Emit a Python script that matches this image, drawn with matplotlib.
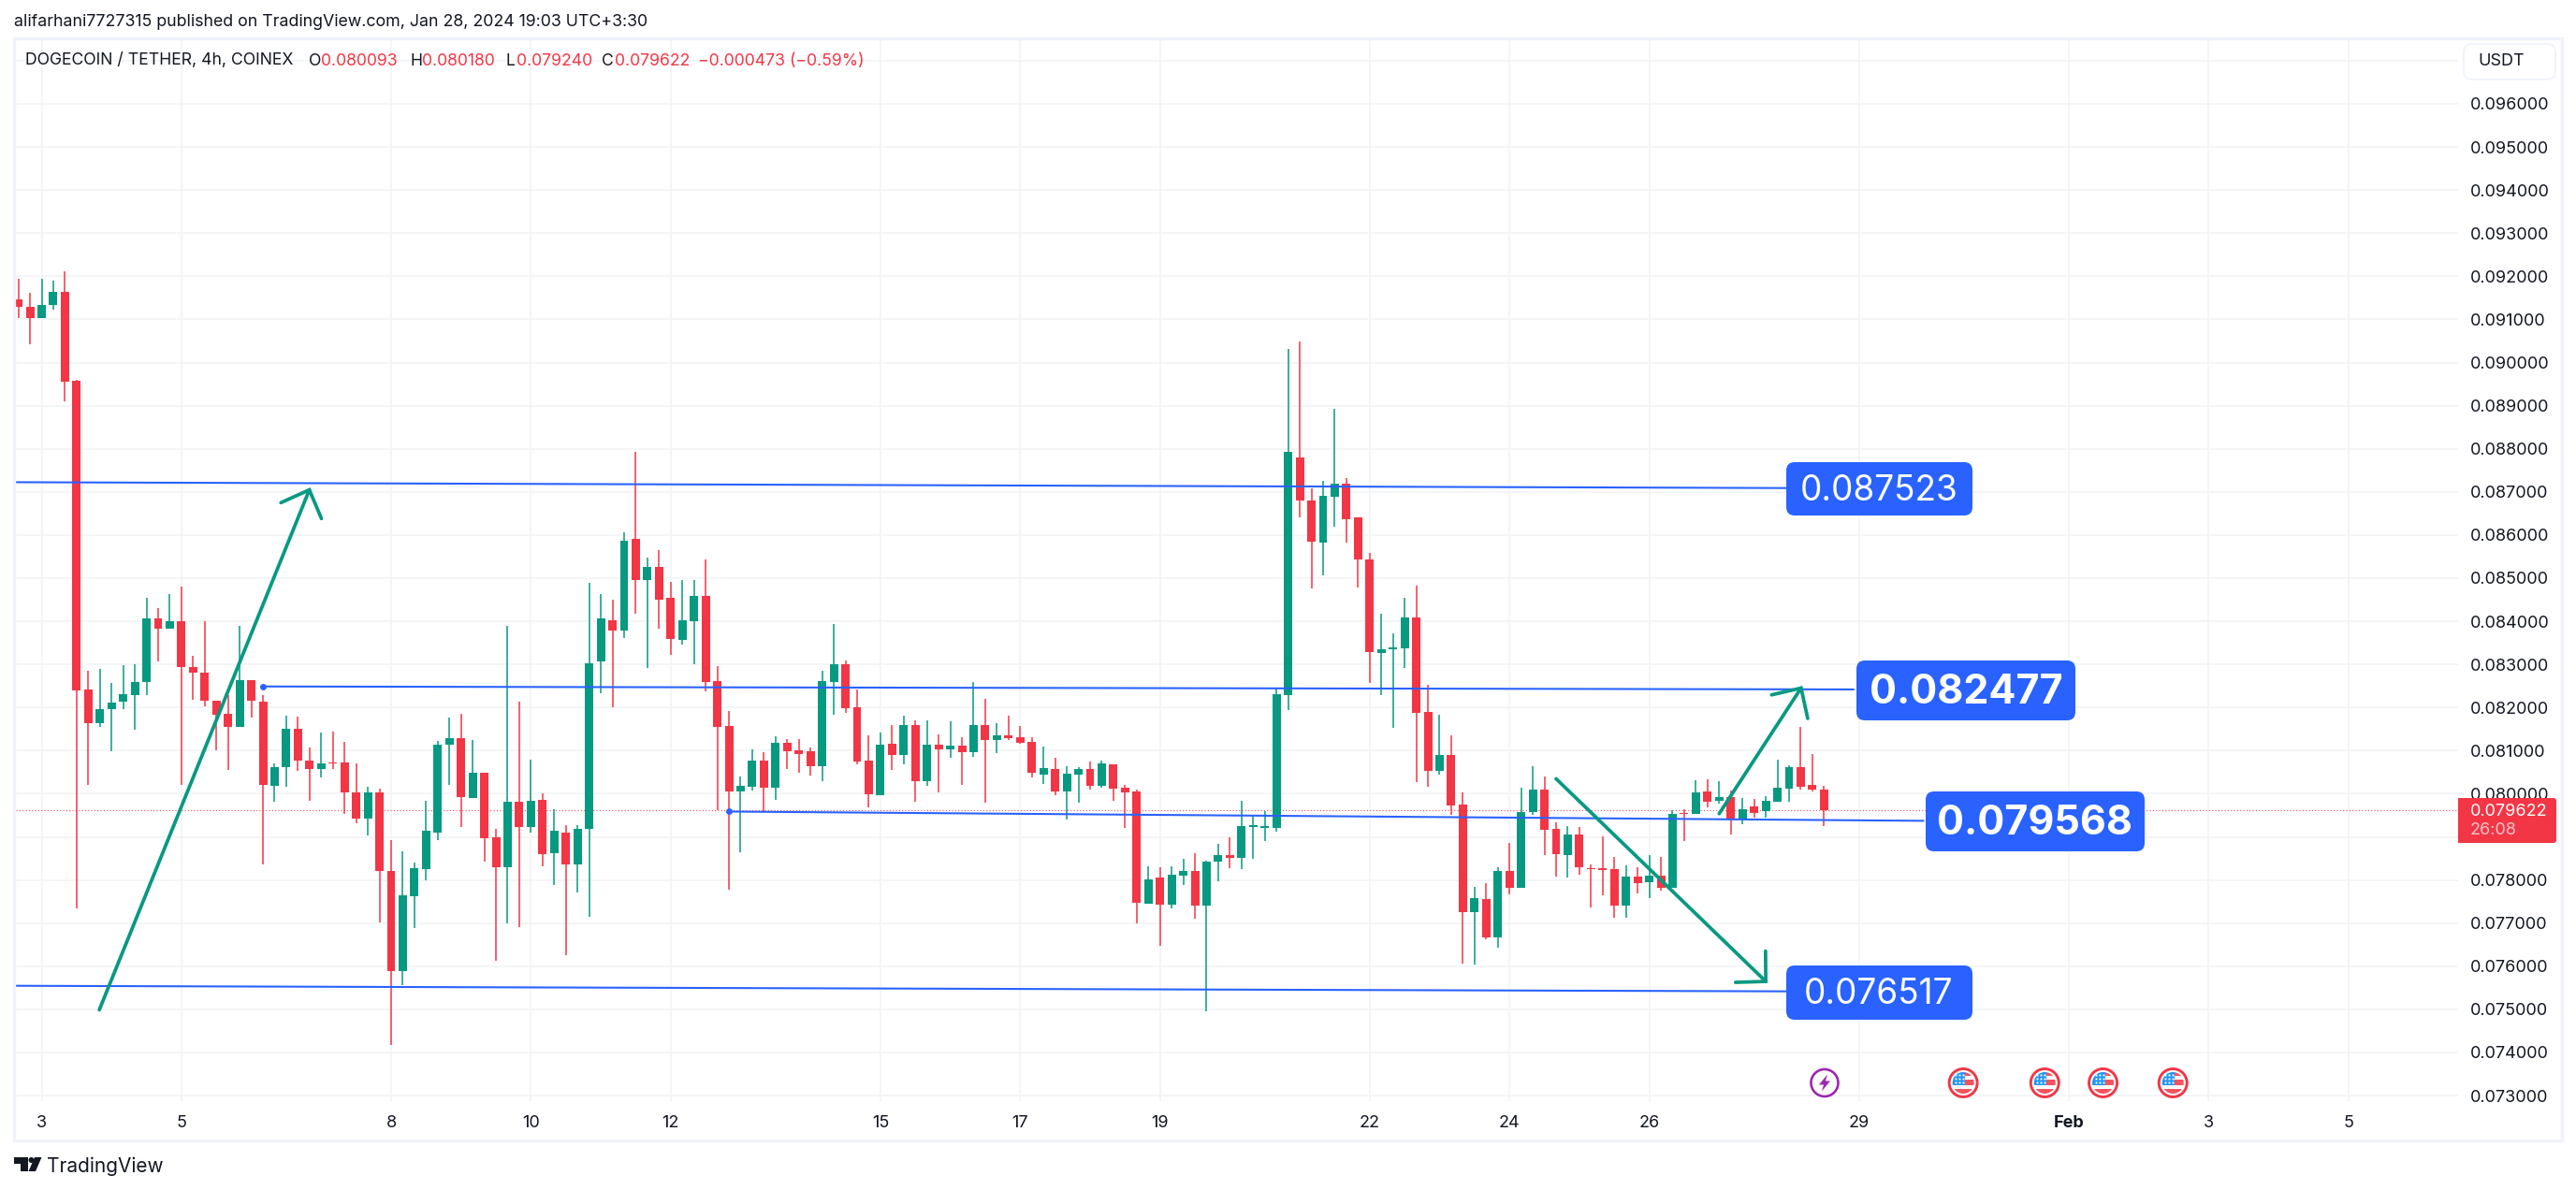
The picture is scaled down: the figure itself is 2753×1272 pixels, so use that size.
import numpy as np
import matplotlib
matplotlib.use('Agg')
import matplotlib.pyplot as plt
from matplotlib.patches import FancyBboxPatch, Rectangle, Circle, Polygon

plt.rcParams['font.family'] = ['Inter', 'DejaVu Sans']

# prices are kept in millionths of a USDT
opens = [91464,91286,91024,91333,91631,89583,82417,81631,81952,82131,
         82298,82583,84071,83821,84000,82941,82810,82155,81857,81560,
         82643,82143,80179,80607,81512,80774,80571,80726,80726,80036,
         79417,80036,78214,75881,77619,78262,79107,81143,81286,79905,
         80488,78988,78286,79821,79238,79857,78631,79095,78357,79179,
         83060,84024,83774,85917,84952,85268,84551,83573,84007,84594,
         82616,81573,80051,80160,80768,80138,81181,81008,80986,80638,
         82594,83007,82007,80768,79964,81160,80899,81594,80290,81138,
         81029,81116,80964,81594,81247,81355,81312,81203,80442,80573,
         80051,80442,80573,80182,80681,80138,80051,77443,78051,77421,
         78095,78203,77399,78434,78571,78518,79233,79212,79212,82293,
         87803,86804,85826,86888,87193,86404,85437,83271,83345,83365,
         84091,81893,80537,80894,79748,77246,77561,76678,78213,77824,
         79570,80095,79181,78571,79054,78266,78255,78255,77414,78076,
         77940,78098,77824,79559,79528,80053,79843,79927,79422,79706,
         79591,79822,80116,80621,80200,80093]
closes = [91286,91024,91333,91631,89548,82405,81631,81964,82119,82310,
          82595,84071,83821,84000,82929,82798,82155,81833,81548,82643,
          82155,80202,80619,81512,80762,80571,80702,80702,80024,79417,
          80036,78202,75881,77643,78274,79143,81143,81286,79917,80488,
          78976,78286,79821,79238,79833,78607,79143,78357,79191,83024,
          84071,83774,85869,84952,85262,84507,83594,84029,84594,82594,
          81551,80051,80182,80768,80138,81181,80986,80921,80638,82616,
          83007,81986,80747,79986,81138,80899,81594,80290,81138,81029,
          81116,80964,81594,81247,81355,81290,81181,80486,80595,80051,
          80464,80573,80182,80703,80116,80029,77464,78008,77421,78116,
          78203,77399,78421,78581,78507,79254,79254,79233,82314,87929,
          86793,85836,86909,87193,86373,85426,83292,83355,83397,84091,
          81883,80537,80894,79738,77246,77582,76668,78213,77824,79580,
          80095,79170,78592,79054,78287,78245,78234,77414,78076,77919,
          78098,77824,79528,79528,80032,79822,79927,79422,79643,79559,
          79832,80137,80621,80158,80095,79622]
highs = [91941,91619,91941,91905,92119,89607,82845,82893,82571,82988,
         83012,84548,84310,84631,84798,83202,84000,82155,82298,83893,
         82643,82298,80702,81810,81786,81072,81417,81441,81202,80702,
         80167,80119,78929,78667,78405,79833,81226,81774,81857,81250,
         80488,79191,83893,82143,80798,80012,79643,79274,79274,84893,
         84631,84500,86071,87929,85476,85660,84920,84964,84964,85442,
         82964,81921,80399,81029,80964,81334,81268,81268,81073,82855,
         83942,83094,82421,81355,81421,81594,81812,81703,81703,81377,
         81681,81312,82594,82203,81638,81812,81573,81312,81094,80834,
         80638,80616,80747,80768,80681,80203,80094,78312,78290,78312,
         78486,78616,78442,78833,78991,79833,79486,79591,82472,90316,
         90484,87077,87256,88928,87319,86404,85584,84175,83723,84543,
         84827,82524,81830,81357,80032,77845,77929,78297,78865,80137,
         80642,80390,79338,79254,79223,78360,79012,78539,78329,78297,
         78571,78539,79622,79643,80316,80337,80295,80085,79906,79874,
         79948,80789,80663,81546,80926,80180]
lows = [91024,90417,91024,91226,89095,77333,80202,81548,80980,81952,
        81476,82298,83059,83821,80214,82190,82024,81012,80548,81560,
        81762,78369,79809,80155,80524,79833,80369,80583,79524,79310,
        79024,77024,74167,75571,76893,78000,78917,80214,79238,79893,
        78417,76119,77000,76917,79107,78310,77893,76250,77703,77155,
        82322,82000,83607,84167,82917,83834,83225,83464,83007,82377,
        79609,77769,78638,80073,79587,79855,80573,80486,80421,80290,
        81834,81877,80681,79682,79964,80551,80681,79812,80182,80029,
        80834,80203,80855,79790,80942,81247,81160,80377,80225,79964,
        79399,79790,80095,80138,79834,79203,76986,77443,76464,77334,
        77877,77095,74954,77961,78276,78245,78487,78907,79118,81946,
        86415,84764,85069,86194,85816,84785,82577,82293,81536,82924,
        80263,80169,80452,79517,76068,76047,76615,76436,77656,77824,
        79517,78571,78087,78066,78118,77372,77635,77130,77130,77698,
        77572,77761,77824,78897,79528,79675,79780,79065,79296,79443,
        79443,79822,79811,80095,80043,79240]

# time axis: candle index of each date label
date_idx = [2,14,32,44,56,74,86,98,116,128,140,158,176,188,200]
date_labels = ['3','5','8','10','12','15','17','19','22','24','26','29','Feb','3','5']
price_ticks = [73000+1000*n for n in range(25)]

# drawn levels: start index, start price, end index, end price
level_lines = [(-1,87226,153.3,87088),
               (21,82488,157.6,82419),
               (61,79587,163.6,79372),
               (-1,75547,153.3,75416)]
level_dots = [(21,82488),(61,79587)]
# drawn arrows: shaft start, tip, two head ends
arrows = [[(6.95,74988),(24.98,87048),(22.54,86750),(26.02,86381)],
          [(132.0,80348),(150.0,75648),(147.4,75626),(149.98,76352)],
          [(146.0,79538),(153.03,82451),(150.5,82293),(153.6,81746)]]
last_price = 79622
event_idx = [155.05,166.95,173.95,178.95,184.95]
event_price = 73295

RED = '#F23645'
GREEN = '#089981'
BLUE = '#2962FF'
GRID = '#F2F3F6'
FRAME = '#F0F3FA'
TXT = '#131722'
W, H = 2753, 1272

fig = plt.figure(figsize=(W/100, H/100), dpi=100, facecolor='white')

# px -> data mapping of the pane
STEP = 12.45
X0 = 19.6
def price_at(y):
    return (96000-(y-111)/46.09*1000)/1e6

ax = fig.add_axes([17/W, 1-1177/H, (2627-17)/W, (1177-42)/H])
ax.set_xlim((17-X0)/STEP, (2627-X0)/STEP)
ax.set_ylim(price_at(1177), price_at(42))
for s in ax.spines.values():
    s.set_visible(False)

ax.set_xticks(date_idx)
ax.set_xticklabels(date_labels, fontsize=13, color=TXT)
ax.get_xticklabels()[12].set_fontweight('bold')
ax.set_yticks([p/1e6 for p in price_ticks])
# 0.079 sits behind the last price tag and 0.097 behind the USDT button
ax.set_yticklabels(['%.6f' % (p/1e6) if p not in (79000, 97000) else '' for p in price_ticks], fontsize=13, color=TXT)
ax.yaxis.tick_right()
ax.tick_params(axis='both', length=0)
ax.tick_params(axis='y', pad=9)
ax.tick_params(axis='x', pad=11)
ax.grid(True, color=GRID, lw=1.2, zorder=0)
ax.set_axisbelow(True)

idx = np.arange(len(opens))
o = np.array(opens)/1e6
c = np.array(closes)/1e6
hi = np.array(highs)/1e6
lo = np.array(lows)/1e6
cols = [GREEN if b >= a else RED for a, b in zip(o, c)]
ax.axhline(last_price/1e6, color=RED, lw=0.8, ls=(0, (1, 2)), alpha=0.9, zorder=1)
ax.vlines(idx, lo, hi, colors=cols, lw=1.1, zorder=3)
body_h = np.maximum(np.abs(c-o), 0.00003)
ax.bar(idx, body_h, bottom=np.minimum(o, c), width=0.72, color=cols, lw=0, zorder=3)

for x1, p1, x2, p2 in level_lines:
    ax.plot([x1, x2], [p1/1e6, p2/1e6], color=BLUE, lw=1.5, zorder=4, solid_capstyle='butt')
for x1, p1 in level_dots:
    ax.plot(x1, p1/1e6, 'o', color=BLUE, ms=5, mew=0, zorder=4)
for shaft, tip, h1, h2 in arrows:
    ax.plot([shaft[0], tip[0]], [shaft[1]/1e6, tip[1]/1e6], color=GREEN, lw=2.7, solid_capstyle='round', zorder=5)
    ax.plot([h1[0], tip[0], h2[0]], [h1[1]/1e6, tip[1]/1e6, h2[1]/1e6], color=GREEN, lw=2.7,
            solid_capstyle='round', solid_joinstyle='miter', zorder=5)

# overlay in image pixels for everything around the pane
ov = fig.add_axes([0, 0, 1, 1], zorder=10)
ov.set_xlim(0, W)
ov.set_ylim(H, 0)
ov.axis('off')
ov.patch.set_alpha(0)

ov.add_patch(Rectangle((15, 41), 2723, 1178, fc='none', ec=FRAME, lw=2.4))

def box(x1, y1, x2, y2, fc, ec='none', r=9, lw=0):
    ov.add_patch(FancyBboxPatch((x1+r, y1+r), x2-x1-2*r, y2-y1-2*r, boxstyle='round,pad=%d,rounding_size=%d' % (r, r),
                                fc=fc, ec=ec, lw=lw, mutation_aspect=1))

box(1909, 494, 2108, 551, BLUE)
ov.text(2008, 525, '0.087523', color='white', fontsize=26.6, ha='center', va='center')
box(1984, 706, 2218, 770, BLUE)
ov.text(2101, 741, '0.082477', color='white', fontsize=31, fontweight='bold', ha='center', va='center')
box(2058, 846, 2292, 910, BLUE)
ov.text(2175, 881, '0.079568', color='white', fontsize=31, fontweight='bold', ha='center', va='center')
box(1909, 1032, 2108, 1090, BLUE)
ov.text(2008, 1063, '0.076517', color='white', fontsize=26.6, ha='center', va='center')

# last price tag
box(2627, 853, 2732, 901, RED, r=3)
ov.add_patch(Rectangle((2627, 853), 20, 48, fc=RED, ec='none'))
ov.text(2640, 867, '%.6f' % (last_price/1e6), color='white', fontsize=13, va='center')
ov.text(2640, 888, '26:08', color='#FBC4C9', fontsize=13, va='center')

box(2633, 47, 2731, 85, 'white', ec=FRAME, r=9, lw=1.4)
ov.text(2648, 66, 'USDT', color=TXT, fontsize=13, va='center')

# header rows
ov.text(15, 24, 'alifarhani7727315 published on TradingView.com, Jan 28, 2024 19:03 UTC+3:30',
        color=TXT, fontsize=12.8, va='center')
for tx, s, col in [(27, 'DOGECOIN / TETHER, 4h, COINEX', TXT),
                   (330, 'O', TXT), (343, '0.080093', RED),
                   (438, 'H', TXT), (451, '0.080180', RED),
                   (541, 'L', TXT), (552, '0.079240', RED),
                   (643, 'C', TXT), (657, '0.079622', RED),
                   (746, '\u22120.000473 (\u22120.59%)', RED)]:
    ov.text(tx, 65, s, color=col, fontsize=12.7, va='center')

# event icons at their candle position
for n, (ei, col) in enumerate(zip(event_idx, [1, 0, 0, 0, 0])):
    ex, ey = ax.transData.transform((ei, event_price/1e6))
    ex, ey = ov.transData.inverted().transform((ex, ey))
    if col:
        ov.add_patch(Circle((ex, ey), 14.5, fc='white', ec='#9C27B0', lw=1.9))
        bolt = [(3, -9), (-6, 2), (-1, 2), (-3, 9), (6, -2), (1, -2)]
        ov.add_patch(Polygon([(ex+a, ey+b) for a, b in bolt], fc='#9C27B0', ec='none'))
    else:
        ring = Circle((ex, ey), 15, fc='white', ec=RED, lw=2.1)
        ov.add_patch(ring)
        clip = Circle((ex, ey), 11.5, transform=ov.transData)
        parts = [Rectangle((ex-12, ey-12), 24, 24, fc='white', ec='none'),
                 Rectangle((ex+2, ey-12), 10, 5, fc='#F7525F', ec='none'),
                 Rectangle((ex+2, ey-3), 10, 5.5, fc='#F7525F', ec='none'),
                 Rectangle((ex-12, ey+6.5), 24, 6, fc='#F7525F', ec='none'),
                 Rectangle((ex-12, ey-12), 14, 14.5, fc='#2196F3', ec='none')]
        for pp in parts:
            ov.add_patch(pp)
            pp.set_clip_path(clip)
        for sx in (-8, -4, 0):
            for sy in (-8, -4, 0):
                ov.plot(ex+sx, ey+sy, 's', color='white', ms=1.4, mew=0)

# TradingView logo
ov.add_patch(Polygon([(15, 1237), (30, 1237), (30, 1252), (22, 1252), (22, 1244), (15, 1244)], fc=TXT, ec='none'))
ov.add_patch(Circle((33.5, 1240), 3, fc=TXT, ec='none'))
ov.add_patch(Polygon([(37, 1237), (44.5, 1237), (38, 1252), (30.5, 1252)], fc=TXT, ec='none'))
ov.text(50, 1247, 'TradingView', color=TXT, fontsize=15, va='center')

fig.savefig('out.png', dpi=100, facecolor='white')
